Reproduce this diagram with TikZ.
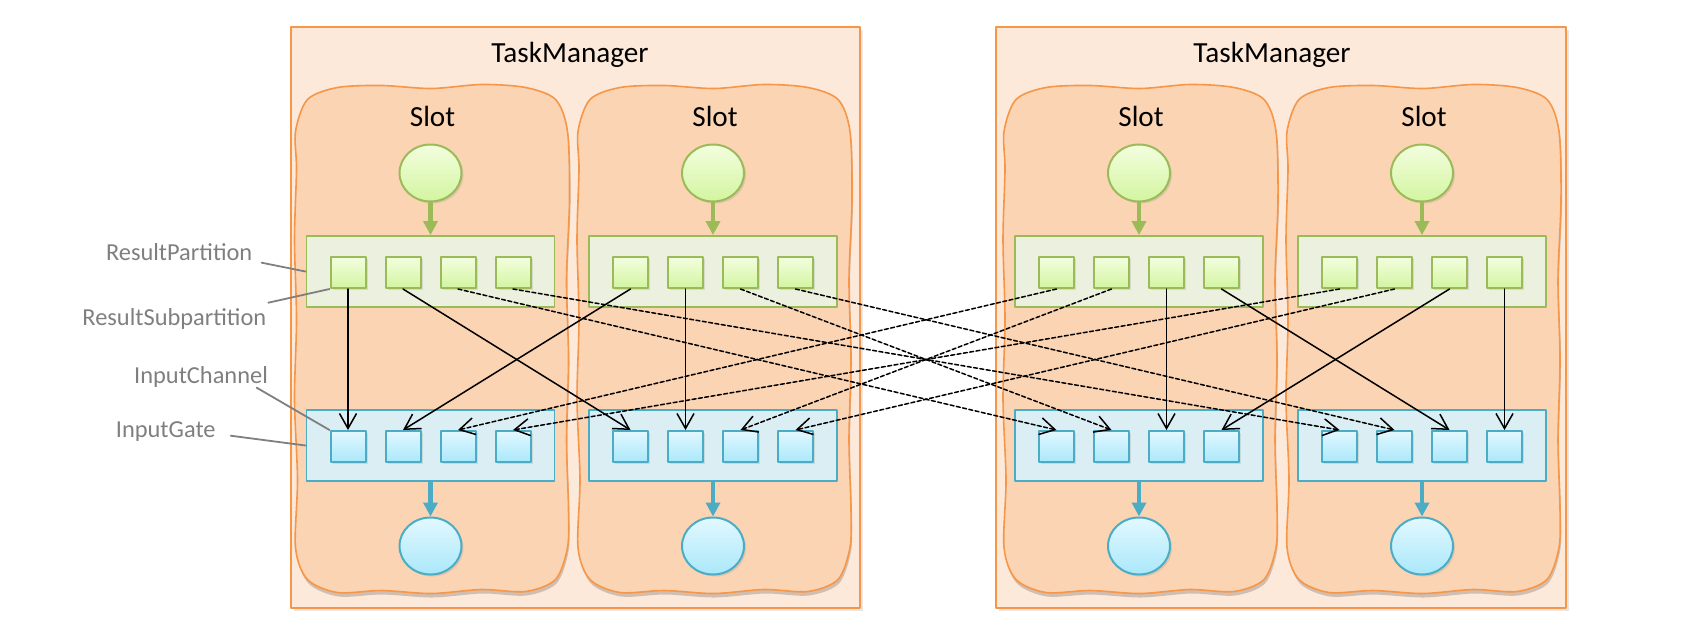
\documentclass[tikz,border=0pt]{standalone}
\usepackage{fontspec}
\setmainfont{Carlito}
\usetikzlibrary{arrows.meta,shapes.geometric,shadows}

\definecolor{tmfill}{HTML}{FDE9D9}
\definecolor{tmline}{HTML}{F79646}
\definecolor{slotfill}{HTML}{FBD4B4}
\definecolor{rpfill}{HTML}{EBF1DE}
\definecolor{rpline}{HTML}{9BBB59}
\definecolor{igfill}{HTML}{DAEEF3}
\definecolor{igline}{HTML}{4BACC6}
\definecolor{greentop}{HTML}{F3FEDF}
\definecolor{greenbot}{HTML}{D3F5A0}
\definecolor{bluetop}{HTML}{E2F8FF}
\definecolor{bluebot}{HTML}{A9E8FA}
\definecolor{lblgray}{HTML}{7F7F7F}

% wellige Umrisslinie eines Slots (relativ zur Mitte)
\def\slotpath{plot[smooth cycle, tension=0.5] coordinates {
	(-94,-252) (-50,-254) (0,-251) (50,-255) (94,-252) (124,-240)
	(136,-208) (138,-140) (135,-60) (137,20) (135,100) (137,170) (136,208)
	(124,240) (94,252) (50,250) (0,254) (-50,251) (-94,253) (-124,240)
	(-136,208) (-134,140) (-137,60) (-135,-20) (-137,-100) (-135,-170) (-136,-208)
	(-124,-240)}}

\begin{document}
\begin{tikzpicture}[x=0.5pt, y=-0.5pt, line join=round, line cap=round,
	tmbox/.style={draw=tmline, line width=1pt, fill=tmfill, inner sep=0pt,
		minimum width=284.6pt, minimum height=290.2pt,
		drop shadow={shadow xshift=1.5pt, shadow yshift=-1.5pt, opacity=0.2}},
	slotbox/.style={inner sep=0pt, minimum width=136pt, minimum height=252.5pt},
	slotline/.style={draw=tmline, line width=0.8pt, fill=slotfill},
	slotshadow/.style={fill=black, opacity=0.18},
	rpbox/.style={draw=rpline, line width=0.9pt, fill=rpfill, inner sep=0pt,
		minimum width=124pt, minimum height=35.5pt},
	igbox/.style={draw=igline, line width=0.9pt, fill=igfill, inner sep=0pt,
		minimum width=124pt, minimum height=35.5pt},
	spbox/.style={draw=rpline, line width=1pt, top color=greentop, bottom color=greenbot, inner sep=0pt,
		minimum width=17.5pt, minimum height=15.5pt,
		drop shadow={shadow xshift=1pt, shadow yshift=-1pt, opacity=0.2}},
	chbox/.style={draw=igline, line width=1pt, top color=bluetop, bottom color=bluebot, inner sep=0pt,
		minimum width=17.5pt, minimum height=15.5pt,
		drop shadow={shadow xshift=1pt, shadow yshift=-1pt, opacity=0.2}},
	srcnode/.style={ellipse, draw=rpline, line width=1pt, top color=greentop, bottom color=greenbot,
		inner sep=0pt, minimum width=31pt, minimum height=28.5pt,
		drop shadow={shadow xshift=1pt, shadow yshift=-1pt, opacity=0.2}},
	snknode/.style={ellipse, draw=igline, line width=1pt, top color=bluetop, bottom color=bluebot,
		inner sep=0pt, minimum width=31pt, minimum height=28.5pt,
		drop shadow={shadow xshift=1pt, shadow yshift=-1pt, opacity=0.2}},
	headlabel/.style={anchor=base, inner sep=0pt, font=\fontsize{14.6pt}{17pt}\selectfont},
	sidelabel/.style={anchor=base east, inner sep=0pt, text=lblgray, font=\fontsize{12.2pt}{14pt}\selectfont},
	sideline/.style={draw=lblgray, line width=0.9pt},
	greenarrow/.style={draw=rpline, line width=2.4pt, -{Triangle[length=7pt, width=7pt]}, shorten <=0.5pt},
	bluearrow/.style={draw=igline, line width=2.4pt, -{Triangle[length=7pt, width=7pt]}, shorten <=0.5pt},
	chanarrow/.style={line width=0.75pt, -{Straight Barb[length=7.5pt, width=8.5pt]}},
	remotearrow/.style={chanarrow, dash pattern=on 2pt off 1.2pt}]
	\useasboundingbox (0,0) rectangle (1684,633);
	% TaskManager
	\node[tmbox] (tm1) at (575.4,317.5) {};
	\node[tmbox] (tm2) at (1281,317.5) {};
	\node[headlabel] (tmlbl1) at (570,62) {TaskManager};
	\node[headlabel] (tmlbl2) at (1272,62) {TaskManager};
	% Slot
	\foreach \s/\x in {1/430.5,2/713,3/1139,4/1422}{
		\node[slotbox] (slot\s) at (\x+1,339.5) {};
		\fill[slotshadow, shift={(slot\s.center)}, yshift=-2pt, xshift=0.5pt] \slotpath;
		\draw[slotline, shift={(slot\s.center)}] \slotpath;
		\node[headlabel] (slotlbl\s) at (\x+2,126) {Slot};
		\node[srcnode] (src\s) at (\x,173) {};
		\node[rpbox] (rp\s) at (\x,271.5) {};
		\node[igbox] (ig\s) at (\x,445.5) {};
		\node[snknode] (snk\s) at (\x,546) {};
		\foreach \i in {1,...,4}{
			\node[spbox] (sp-\s-\i) at (\x+55*\i-137.5,272.5) {};
			\node[chbox] (ch-\s-\i) at (\x+55*\i-137.5,446.5) {};
		}
		\draw[greenarrow] (src\s) -- (rp\s);
		\draw[bluearrow] (ig\s) -- (snk\s);
	}
	% ResultSubpartition -> InputChannel
	\foreach \s/\i in {1/1,1/2,2/1,2/2,3/3,3/4,4/3,4/4}
		\draw[chanarrow] (sp-\s-\i.south) -- (ch-\i-\s.north);
	\foreach \s/\i in {1/3,1/4,2/3,2/4,3/1,3/2,4/1,4/2}
		\draw[remotearrow] (sp-\s-\i.south) -- (ch-\i-\s.north);
	% Bezeichnungen links
	\node[sidelabel] (lblrp) at (252.7,260) {ResultPartition};
	\node[sidelabel] (lblsp) at (266.7,325.7) {ResultSubpartition};
	\node[sidelabel] (lblch) at (268.3,383) {InputChannel};
	\node[sidelabel] (lblig) at (216,437.3) {InputGate};
	\coordinate (rptail) at (261.7,262.7);
	\coordinate (sptail) at (268.3,302.7);
	\coordinate (chtail) at (256.7,387.7);
	\coordinate (igtail) at (230.7,435.7);
	\draw[sideline] (rptail) -- (rp1.west);
	\draw[sideline] (sptail) -- (sp-1-1.south west);
	\draw[sideline] (chtail) -- (ch-1-1.north west);
	\draw[sideline] (igtail) -- (ig1.west);
\end{tikzpicture}
\end{document}
